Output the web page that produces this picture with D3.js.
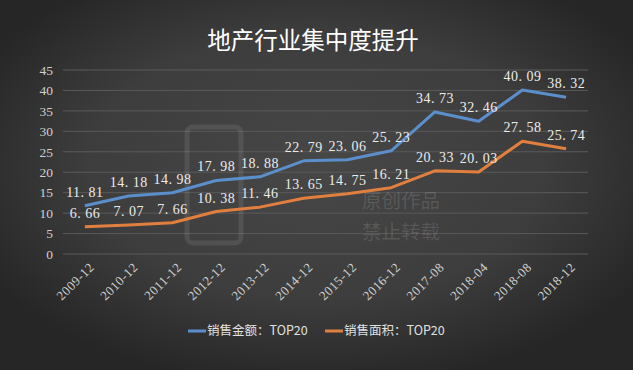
<!DOCTYPE html>
<html><head><meta charset="utf-8">
<script src="https://cdn.jsdelivr.net/npm/d3@7"></script>
<style>body{margin:0;background:#333;}svg{display:block}</style>
</head><body>
<svg id="c" width="633" height="370"></svg>
<script>
const categories = ["2009-12","2010-12","2011-12","2012-12","2013-12","2014-12","2015-12","2016-12","2017-08","2018-04","2018-08","2018-12"];
const salesAmount = [11.81,14.18,14.98,17.98,18.88,22.79,23.06,25.23,34.73,32.46,40.09,38.32];
const salesArea = [6.66,7.07,7.66,10.38,11.46,13.65,14.75,16.21,20.33,20.03,27.58,25.74];
const yTicks = [0,5,10,15,20,25,30,35,40,45];
const seriesNames = ["销售金额：TOP20","销售面积：TOP20"];
const title = "地产行业集中度提升";

(function(){
const W = 633, H = 370;
const svg = d3.select("#c");
const defs = svg.append("defs");
const g = defs.append("radialGradient").attr("id","bg").attr("cx","50%").attr("cy","45%").attr("r","60%");
g.append("stop").attr("offset","0%").attr("stop-color","#474747");
g.append("stop").attr("offset","60%").attr("stop-color","#3d3d3d");
g.append("stop").attr("offset","100%").attr("stop-color","#262626");
svg.append("rect").attr("width",W).attr("height",H).attr("fill","url(#bg)");

const pl = 63, pr = 588, pt = 70, pb = 254;
const x = d3.scaleBand().domain(categories).range([pl, pr]);
const y = d3.scaleLinear().domain([0,45]).range([pb, pt]);

svg.append("g").selectAll("line").data(yTicks).join("line")
  .attr("x1", pl).attr("x2", pr)
  .attr("y1", d => y(d)).attr("y2", d => y(d))
  .attr("stroke", "#5a5a5a").attr("stroke-width", 1);

// watermark
svg.append("rect").attr("x",187).attr("y",127).attr("width",54).attr("height",116).attr("rx",6)
  .attr("fill","none").attr("stroke","#fff").attr("stroke-opacity",0.09).attr("stroke-width",5);
const wm = svg.append("g").attr("fill","#ffffff").attr("fill-opacity",0.13)
  .attr("font-family","'Noto Sans CJK SC'").attr("font-size",19.5);
wm.append("text").attr("x",362).attr("y",208).text("原创作品");
wm.append("text").attr("x",362).attr("y",239).text("禁止转载");

const yAxis = d3.axisLeft(y).tickValues(yTicks).tickSize(0).tickPadding(8);
const ya = svg.append("g").attr("transform",`translate(${pl - 2},0)`).call(yAxis);
ya.select(".domain").remove();
ya.selectAll("text").attr("fill","#d0d0d0").attr("font-family","'Liberation Serif', serif").attr("font-size",13.5);

const xAxis = d3.axisBottom(x).tickSize(0).tickPadding(0);
const xa = svg.append("g").attr("transform",`translate(0,${pb})`).call(xAxis);
xa.select(".domain").remove();
xa.selectAll("text")
  .attr("fill","#d0d0d0").attr("font-family","'Liberation Serif', serif").attr("font-size",13)
  .attr("letter-spacing",0.5)
  .attr("text-anchor","end").attr("dy",0)
  .attr("transform","translate(10,14) rotate(-45)");

const cx = d => x(d) + x.bandwidth()/2;
const line = d3.line().x((d,i) => cx(categories[i])).y(d => y(d));
const series = [
  {name: seriesNames[0], values: salesAmount, color: "#5b8fcc"},
  {name: seriesNames[1], values: salesArea, color: "#e07f3e"}
];
series.forEach(s => {
  svg.append("path").datum(s.values).attr("d", line)
    .attr("fill","none").attr("stroke", s.color).attr("stroke-width", 3)
    .attr("stroke-linejoin","round");
});
series.forEach(s => {
  svg.append("g").selectAll("text").data(s.values).join("text")
    .attr("x", (d,i) => cx(categories[i]))
    .attr("y", d => y(d) - 9)
    .attr("text-anchor","middle")
    .attr("fill","#ececec").attr("font-family","'Liberation Serif', serif").attr("font-size",14)
    .attr("letter-spacing",0.5)
    .text(d => d.toFixed(2).replace(".", ". "));
});

svg.append("text").attr("x", 313).attr("y", 49).attr("text-anchor","middle")
  .attr("fill","#ffffff").attr("font-family","'Noto Sans CJK SC'").attr("font-size",23.5)
  .text(title);

const lg = svg.append("g");
const legendX = [188, 325];
series.forEach((s,i) => {
  lg.append("line").attr("x1", legendX[i]).attr("x2", legendX[i]+18).attr("y1",331).attr("y2",331)
    .attr("stroke", s.color).attr("stroke-width",3);
  lg.append("text").attr("x", legendX[i]+19).attr("y", 335)
    .attr("fill","#e0e0e0").attr("font-family","'Noto Sans CJK SC'").attr("font-size",12.5)
    .text(s.name);
});
})();
</script>
</body></html>
